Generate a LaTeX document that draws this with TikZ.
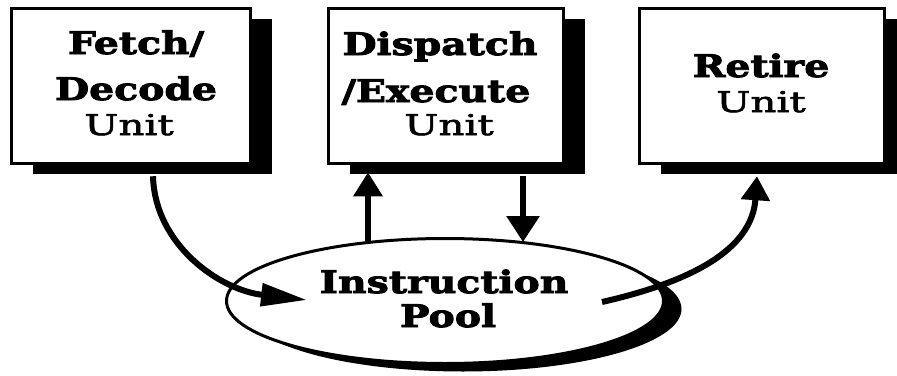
\documentclass[tikz,border=0pt]{standalone}
\usepackage{fontspec}
\usetikzlibrary{shapes.geometric,shadows,arrows.meta,calc}
\newfontfamily\slab{DejaVu Serif}[FakeStretch=1.27, FakeBold=3]
\newfontfamily\slabmid{DejaVu Serif}[FakeStretch=1.42, FakeBold=2.2]

\tikzset{
  unitbox/.style={draw=black, line width=3.5pt, fill=white, inner sep=0pt,
    minimum height=155pt,
    drop shadow={shadow xshift=21pt, shadow yshift=-10pt, fill=black, opacity=1}},
  pool/.style={ellipse, draw=black, line width=3pt, fill=white, inner sep=0pt,
    minimum width=437pt, minimum height=125pt,
    drop shadow={shadow xshift=18pt, shadow yshift=-8pt, fill=black, opacity=1}},
  heavy/.style={anchor=base, inner sep=0pt, font=\slab\bfseries\fontsize{31}{36}\selectfont},
  light/.style={anchor=base, inner sep=0pt, font=\slabmid\fontsize{28.5}{33}\selectfont},
  flow/.style={line width=6pt, draw=black},
}

\begin{document}
\begin{tikzpicture}[x=1pt, y=-1pt]
\useasboundingbox (0,0) rectangle (897,375);

% the three units
\node[unitbox, minimum width=239pt] (fd) at (131,86) {};
\node[unitbox, minimum width=235pt] (de) at (446,86) {};
\node[unitbox, minimum width=245pt] (rt) at (762,86) {};

% the instruction pool
\node[pool] (pool) at (445,301) {};

% labels
\node[heavy] (fd1) at (136,54) {Fetch/};
\node[heavy] (fd2) at (136,100) {Decode};
\node[light] (fd3) at (129,135) {Unit};

\node[heavy] (de1) at (440,55) {Dispatch};
\node[heavy] (de2) at (436,102) {/Execute};
\node[light] (de3) at (449,135) {Unit};

\node[heavy] (rt1) at (761,77) {Retire};
\node[light] (rt2) at (761,112) {Unit};

\node[heavy] (pl1) at (444,293) {Instruction};
\node[heavy] (pl2) at (448,327) {Pool};

% connectors
\draw[flow, -{Triangle[length=46pt, width=22pt]}]
  ($(fd.south)+(22,11)$) .. controls ($(fd.south)+(24,80)$) and ($(pool.center)+(-225,-11)$) .. ($(pool.center)+(-138,-1)$);

\draw[flow, -{Triangle[length=24pt, width=28pt]}]
  ($(pool.center)+(-77,-59)$) -- ($(de.south)+(-78,7)$);

\draw[flow, -{Triangle[length=26pt, width=32pt]}]
  ($(de.south)+(77,11)$) -- ($(pool.center)+(78,-59)$);

\draw[flow, -{Triangle[length=24pt, width=28pt]}]
  ($(pool.center)+(157,1)$) .. controls ($(pool.center)+(245,-19)$) and ($(rt.south)+(-10,85)$) .. ($(rt.south)+(-5,11)$);
\end{tikzpicture}
\end{document}
